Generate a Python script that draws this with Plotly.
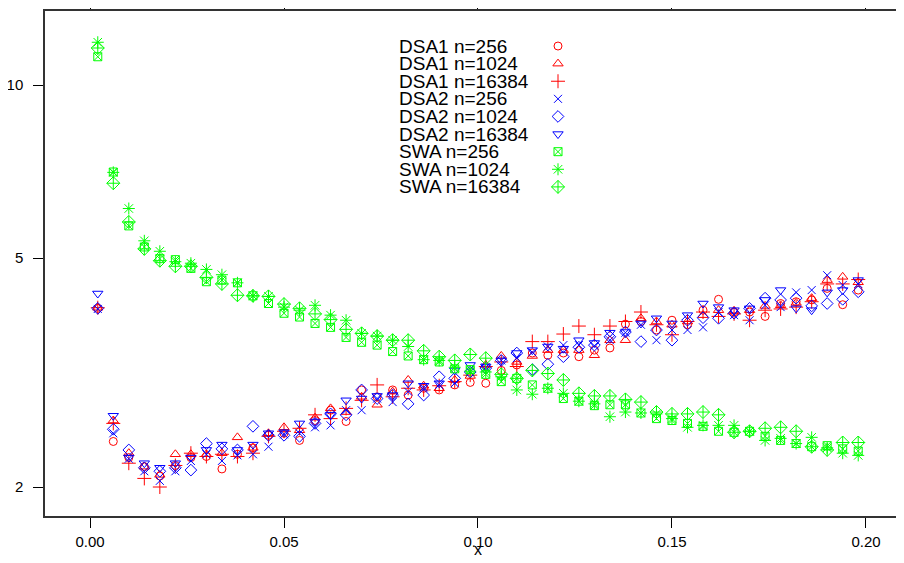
import plotly.graph_objects as go

x = [0.002, 0.006, 0.010, 0.014, 0.018, 0.022, 0.026, 0.030, 0.034, 0.038,
     0.042, 0.046, 0.050, 0.054, 0.058, 0.062, 0.066, 0.070, 0.074, 0.078,
     0.082, 0.086, 0.090, 0.094, 0.098, 0.102, 0.106, 0.110, 0.114, 0.118,
     0.122, 0.126, 0.130, 0.134, 0.138, 0.142, 0.146, 0.150, 0.154, 0.158,
     0.162, 0.166, 0.170, 0.174, 0.178, 0.182, 0.186, 0.190, 0.194, 0.198]

dsa1_256 = [4.09, 2.40, 2.25, 2.17, 2.09, 2.18, 2.25, 2.26, 2.15, 2.28,
            2.34, 2.46, 2.48, 2.41, 2.61, 2.72, 2.60, 2.95, 2.87, 2.95,
            2.89, 2.97, 2.95, 3.01, 3.04, 3.03, 3.19, 3.26, 3.42, 3.39,
            3.42, 3.37, 3.46, 3.49, 3.84, 3.88, 3.75, 3.90, 3.83, 4.06,
            4.24, 4.03, 4.03, 3.96, 4.17, 4.20, 4.23, 4.43, 4.15, 4.40]
dsa1_1024 = [4.10, 2.61, 2.29, 2.17, 2.10, 2.28, 2.28, 2.28, 2.29, 2.44,
             2.34, 2.48, 2.54, 2.51, 2.64, 2.74, 2.70, 2.87, 2.78, 2.93,
             3.07, 3.00, 2.97, 3.07, 3.12, 3.26, 3.38, 3.30, 3.38, 3.46,
             3.46, 3.46, 3.39, 3.60, 3.60, 3.93, 3.88, 3.83, 3.88, 3.98,
             4.06, 4.05, 4.06, 4.13, 4.14, 4.18, 4.26, 4.58, 4.64, 4.54]
dsa1_16384 = [4.10, 2.58, 2.20, 2.07, 2.00, 2.18, 2.29, 2.26, 2.28, 2.26,
              2.29, 2.45, 2.50, 2.53, 2.67, 2.63, 2.74, 2.83, 3.01, 2.87,
              2.97, 2.95, 3.00, 3.05, 3.13, 3.24, 3.30, 3.24, 3.58, 3.58,
              3.69, 3.81, 3.68, 3.81, 3.88, 4.03, 3.83, 3.68, 3.88, 4.03,
              3.96, 4.00, 3.90, 4.06, 4.08, 4.11, 4.20, 4.51, 4.51, 4.59]
dsa2_256 = [4.08, 2.48, 2.24, 2.13, 2.05, 2.13, 2.22, 2.28, 2.22, 2.27,
            2.28, 2.35, 2.47, 2.48, 2.54, 2.56, 2.72, 2.72, 2.85, 2.81,
            2.93, 2.98, 3.01, 3.03, 3.17, 3.23, 3.32, 3.35, 3.43, 3.51,
            3.53, 3.53, 3.52, 3.60, 3.71, 3.83, 3.60, 3.75, 3.75, 3.79,
            4.03, 3.98, 3.90, 4.14, 4.11, 4.36, 4.40, 4.67, 4.49, 4.51]
dsa2_1024 = [4.09, 2.52, 2.32, 2.16, 2.13, 2.16, 2.14, 2.38, 2.33, 2.32,
             2.55, 2.46, 2.46, 2.45, 2.58, 2.68, 2.67, 2.95, 2.85, 2.89,
             2.79, 2.89, 3.11, 3.09, 3.17, 3.22, 3.32, 3.42, 3.20, 3.27,
             3.37, 3.50, 3.53, 3.65, 3.72, 3.58, 3.75, 3.60, 3.90, 3.94,
             3.93, 4.01, 4.09, 4.26, 4.23, 4.26, 4.13, 4.17, 4.24, 4.37]
dsa2_16384 = [4.34, 2.66, 2.25, 2.20, 2.16, 2.20, 2.25, 2.32, 2.37, 2.32,
              2.37, 2.48, 2.49, 2.58, 2.60, 2.67, 2.83, 2.85, 2.88, 2.89,
              3.03, 3.00, 3.03, 3.19, 3.26, 3.24, 3.32, 3.42, 3.46, 3.51,
              3.48, 3.60, 3.56, 3.71, 3.72, 3.85, 3.93, 3.85, 3.98, 4.17,
              4.11, 4.06, 4.09, 4.23, 4.40, 4.09, 4.06, 4.36, 4.40, 4.58]
swa_256 = [11.2, 7.06, 5.69, 5.23, 4.99, 4.97, 4.80, 4.55, 4.58, 4.53,
           4.30, 4.17, 4.01, 3.95, 3.85, 3.79, 3.64, 3.57, 3.53, 3.44,
           3.38, 3.33, 3.30, 3.21, 3.20, 3.14, 3.05, 3.09, 3.01, 2.97,
           2.85, 2.82, 2.77, 2.78, 2.78, 2.69, 2.63, 2.61, 2.58, 2.55,
           2.50, 2.49, 2.50, 2.45, 2.41, 2.38, 2.35, 2.36, 2.33, 2.31]
swa_1024 = [11.87, 7.05, 6.10, 5.36, 5.14, 4.93, 4.90, 4.78, 4.68, 4.53,
            4.30, 4.29, 4.11, 4.06, 4.14, 3.98, 3.90, 3.70, 3.66, 3.60,
            3.51, 3.33, 3.32, 3.23, 3.18, 3.17, 3.11, 2.95, 2.90, 2.97,
            2.91, 2.82, 2.79, 2.65, 2.70, 2.69, 2.68, 2.63, 2.54, 2.56,
            2.56, 2.56, 2.50, 2.41, 2.43, 2.38, 2.44, 2.34, 2.29, 2.27]
swa_16384 = [11.6, 6.75, 5.78, 5.19, 4.95, 4.84, 4.84, 4.63, 4.51, 4.31,
             4.30, 4.29, 4.16, 4.09, 4.00, 3.91, 3.76, 3.70, 3.66, 3.60,
             3.60, 3.45, 3.37, 3.32, 3.40, 3.35, 3.14, 3.09, 3.19, 3.15,
             3.07, 2.91, 2.88, 2.88, 2.84, 2.81, 2.70, 2.68, 2.68, 2.70,
             2.67, 2.49, 2.50, 2.53, 2.54, 2.50, 2.35, 2.32, 2.39, 2.39]

series_names = ["DSA1 n=256", "DSA1 n=1024", "DSA1 n=16384",
                "DSA2 n=256", "DSA2 n=1024", "DSA2 n=16384",
                "SWA n=256", "SWA n=1024", "SWA n=16384"]
series_values = [dsa1_256, dsa1_1024, dsa1_16384,
                 dsa2_256, dsa2_1024, dsa2_16384,
                 swa_256, swa_1024, swa_16384]

x_ticks = [0.0, 0.05, 0.10, 0.15, 0.20]
x_tick_labels = ["0.00", "0.05", "0.10", "0.15", "0.20"]
y_ticks = [2, 5, 10]
y_tick_labels = ["2", "5", "10"]

RED, BLUE, GREEN = "#ff0000", "#0000ff", "#00ff00"
colors = [RED, RED, RED, BLUE, BLUE, BLUE, GREEN, GREEN, GREEN]
symbols = ["circle-open", "triangle-up-open", "cross-thin-open",
           "x-thin-open", "diamond-open", "triangle-down-open",
           "square-x-open", "asterisk-open", "diamond-cross-open"]
sizes = [8, 9, 10, 8, 9, 9, 8, 10, 10]

# page layout (the html body adds an 8px offset to the figure)
W, H = 904, 563
BODY = 8
P_LEFT, P_RIGHT, P_TOP, P_BOTTOM = 45, 904, 11, 515.7   # plot area in page pixels
ML = P_LEFT - BODY
MR = (W + BODY) - P_RIGHT
MT = P_TOP - BODY
MB = (H + BODY) - P_BOTTOM
plot_w = P_RIGHT - P_LEFT
plot_h = P_BOTTOM - P_TOP
FONT = "Liberation Sans, Arial, Helvetica, sans-serif"


def px_x(p):
    return (p - P_LEFT) / plot_w


def px_y(p):
    return (P_BOTTOM - p) / plot_h


fig = go.Figure()
for name, vals, c, s, sz in zip(series_names, series_values, colors, symbols, sizes):
    fig.add_trace(go.Scatter(
        x=x, y=vals, mode="markers", name=name, showlegend=False,
        marker=dict(symbol=s, size=sz, color=c, line=dict(color=c, width=1)),
    ))

# custom legend: text left, symbol right (lattice style)
row0_px, row_step_px = 46, 17.6
text_x_px, sym_x_px = 397, 558
annotations = []
for i, (name, c, s, sz) in enumerate(zip(series_names, colors, symbols, sizes)):
    yp = px_y(row0_px + row_step_px * i)
    annotations.append(dict(
        x=px_x(text_x_px), y=yp, xref="paper", yref="paper",
        text=name, showarrow=False, xanchor="left", yanchor="middle",
        height=17, valign="middle",
        font=dict(family=FONT, size=19, color="black")))
    fig.add_trace(go.Scatter(
        x=[px_x(sym_x_px)], y=[yp], xaxis="x2", yaxis="y2",
        mode="markers", showlegend=False, hoverinfo="skip",
        marker=dict(symbol=s, size=sz, color=c, line=dict(color=c, width=1)),
    ))

annotations.append(dict(
    x=px_x(478), y=px_y(549), xref="paper", yref="paper",
    text="x", showarrow=False, xanchor="center", yanchor="middle",
    height=14, valign="middle",
    font=dict(family=FONT, size=16, color="black")))

fig.update_layout(
    width=W, height=H,
    margin=dict(l=ML, r=MR, t=MT, b=MB, pad=0, autoexpand=False),
    paper_bgcolor="white", plot_bgcolor="white",
    showlegend=False,
    font=dict(family=FONT, size=16, color="black"),
    annotations=annotations,
    xaxis=dict(
        range=[-0.0116, 0.2098], tickvals=x_ticks, ticktext=x_tick_labels,
        ticks="outside", ticklen=10, tickwidth=1, tickcolor="black",
        showline=True, linecolor="#333333", linewidth=1.5, mirror="ticks",
        showgrid=False, zeroline=False, ticklabelstandoff=1, automargin=False,
        tickfont=dict(family=FONT, size=15, color="black"),
    ),
    yaxis=dict(
        type="log", range=[0.2506, 1.1288], tickvals=y_ticks, ticktext=y_tick_labels,
        ticks="outside", ticklen=10, tickwidth=1, tickcolor="black",
        showline=True, linecolor="#333333", linewidth=1.5,
        showgrid=False, zeroline=False, ticklabelstandoff=7, automargin=False,
        tickfont=dict(family=FONT, size=15, color="black"),
    ),
    xaxis2=dict(overlaying="x", range=[0, 1], visible=False, domain=[0, 1]),
    yaxis2=dict(overlaying="y", range=[0, 1], visible=False, domain=[0, 1]),
)

fig.write_html("out.html")
